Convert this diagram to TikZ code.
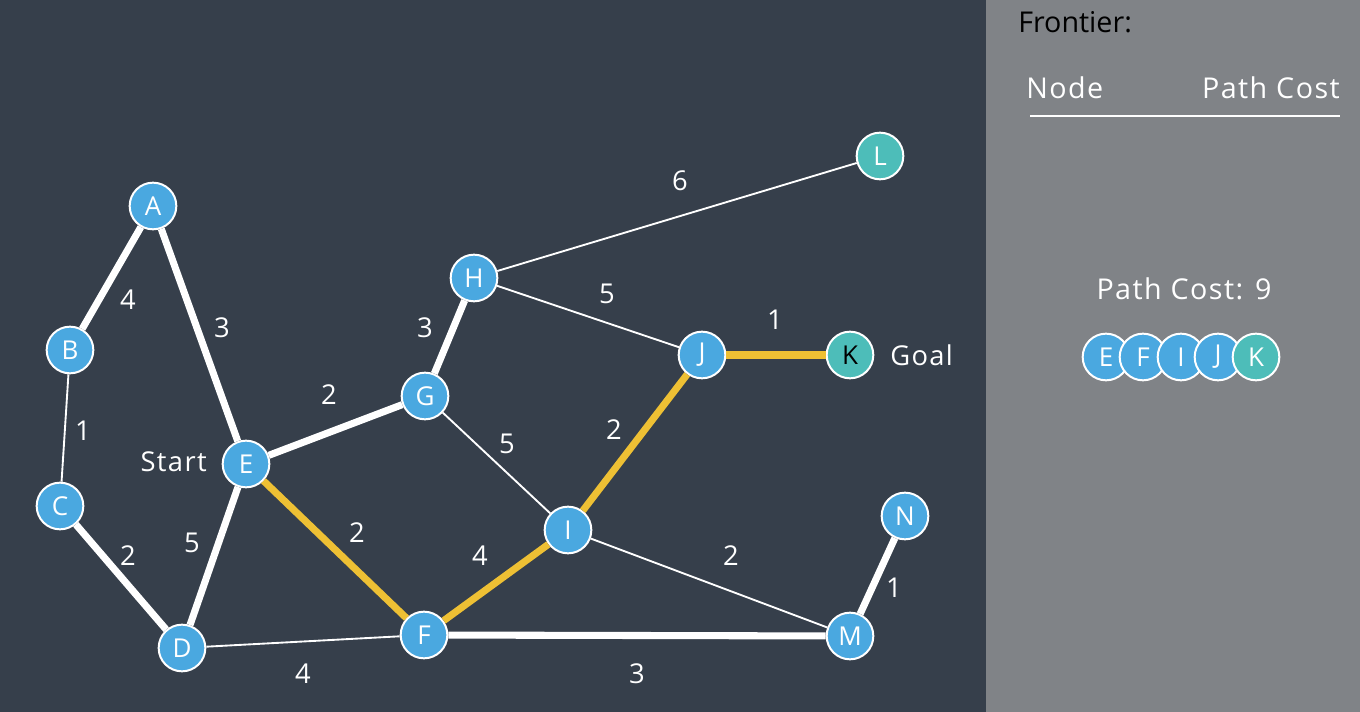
\documentclass[tikz,border=0pt]{standalone}
\usepackage{fontspec}
\setmainfont{Open Sans}[LetterSpace=5]
\newfontfamily\plainsans{Open Sans}
\definecolor{bgdark}{RGB}{54,63,75}
\definecolor{panelgray}{RGB}{128,131,135}
\definecolor{nodeblue}{RGB}{74,168,224}
\definecolor{nodeteal}{RGB}{77,189,185}
\definecolor{pathgold}{RGB}{238,192,52}

\tikzset{
  vertex/.style={circle, draw=white, line width=1.5pt, fill=nodeblue, minimum size=35pt, inner sep=0pt, text=white, font=\fontsize{19.5}{19.5}\selectfont},
  goalvertex/.style={vertex, fill=nodeteal},
  heavy/.style={draw=white, line width=5.3pt},
  light/.style={draw=white, line width=1.4pt},
  route/.style={draw=pathgold, line width=5.3pt},
  cost/.style={text=white, inner sep=0.75pt, font=\fontsize{20.5}{20.5}\selectfont},
  panellabel/.style={cost, font=\fontsize{21.5}{21.5}\selectfont},
}

\begin{document}
\begin{tikzpicture}[x=0.75pt,y=0.75pt,yscale=-1,xscale=1]
%Shape: Rectangle [id:background]
\fill[bgdark] (0,0) rectangle (1360,712);
%Shape: Rectangle [id:panel]
\fill[panelgray] (986,0) rectangle (1360,712);

% Graph nodes
\node[vertex] (A) at (153,206) {A};
\node[vertex] (B) at (70,350) {B};
\node[vertex] (C) at (60,506) {C};
\node[vertex] (D) at (182,648) {D};
\node[vertex] (E) at (246,464) {E};
\node[vertex] (F) at (424,635) {F};
\node[vertex] (G) at (425,396) {G};
\node[vertex] (H) at (474,278) {H};
\node[vertex] (I) at (568,530) {I};
\node[vertex] (J) at (702,355) {J};
\node[goalvertex, text=black] (K) at (850,355) {K};
\node[goalvertex] (L) at (880,156) {L};
\node[vertex] (M) at (850,636) {M};
\node[vertex] (N) at (905,516) {N};

% Edges
\draw[heavy] (A) -- (B);
\draw[heavy] (A) -- (E);
\draw[light] (B) -- (C);
\draw[heavy] (C) -- (D);
\draw[heavy] (D) -- (E);
\draw[light] (D) -- (F);
\draw[heavy] (E) -- (G);
\draw[heavy] (G) -- (H);
\draw[light] (G) -- (I);
\draw[light] (H) -- (L);
\draw[light] (H) -- (J);
\draw[light] (I) -- (M);
\draw[heavy] (F) -- (M);
\draw[heavy] (M) -- (N);
\draw[route] (E) -- (F);
\draw[route] (F) -- (I);
\draw[route] (I) -- (J);
\draw[route] (J) -- (K);

% Text Node
\node[cost] (cAB) at (128,300) {4};
\node[cost] (cAE) at (222,328) {3};
\node[cost] (cBC) at (83,431) {1};
\node[cost] (cCD) at (128,556) {2};
\node[cost] (cDE) at (192,543) {5};
\node[cost] (cDF) at (303,674) {4};
\node[cost] (cEG) at (329,395) {2};
\node[cost] (cEF) at (357,533) {2};
\node[cost] (cGH) at (425,328) {3};
\node[cost] (cGI) at (507,444) {5};
\node[cost] (cHL) at (680,181) {6};
\node[cost] (cHJ) at (607,294) {5};
\node[cost] (cFI) at (480,556) {4};
\node[cost] (cIJ) at (614,430) {2};
\node[cost] (cJK) at (775,320) {1};
\node[cost] (cIM) at (731,556) {2};
\node[cost] (cFM) at (637,674) {3};
\node[cost] (cMN) at (894,588) {1};
% Text Node
\node[cost, anchor=east] (start) at (208,462) {Start};
% Text Node
\node[cost, anchor=west] (goal) at (889,355) {Goal};

% Frontier panel
\node[panellabel, text=black, anchor=west, font=\plainsans\fontsize{21.5}{21.5}\selectfont] (frontier) at (1017,22) {Frontier:};
\node[panellabel, anchor=west] (colnode) at (1025,88) {Node};
\node[panellabel, anchor=east] (colcost) at (1341,88) {Path Cost};
\coordinate (ruleL) at (1030,116);
\coordinate (ruleR) at (1340,116);
\draw[white, line width=1.5pt] (ruleL) -- (ruleR);
% Text Node
\node[panellabel] (total) at (1184,289) {Path Cost: 9};
% Path chain
\node[vertex] (pE) at (1106,357) {E};
\node[vertex] (pF) at (1143,357) {F};
\node[vertex] (pI) at (1181,357) {I};
\node[vertex] (pJ) at (1218,357) {J};
\node[goalvertex] (pK) at (1256,357) {K};

\end{tikzpicture}
\end{document}
